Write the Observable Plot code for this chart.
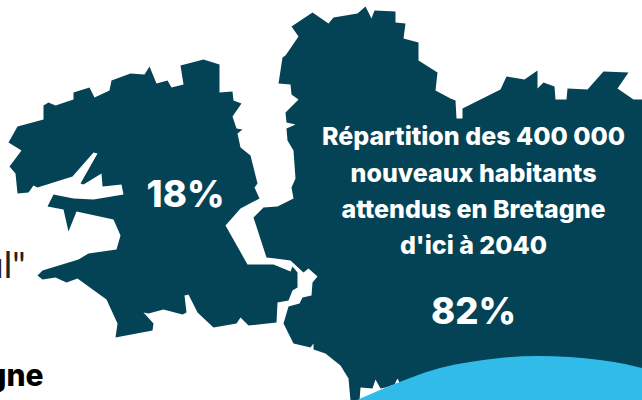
<!DOCTYPE html>
<html><head><meta charset="utf-8">
<style>html,body{margin:0;padding:0;background:#fff;overflow:hidden}svg{display:block}</style>
<script src="https://cdn.jsdelivr.net/npm/d3@7"></script>
<script src="https://cdn.jsdelivr.net/npm/@observablehq/plot@0.6"></script>
</head><body><div id="chart"></div>
<script>
const west = [[8,142],[17,126],[43,119],[43,105],[48,102],[55,105],[73,99],[73,92],[89,87],[94,97],[109,90],[111,80],[130,73],[144,74],[149,66],[156,83],[167,80],[171,87],[183,84],[180,65],[203,59],[219,64],[219,92],[232,91],[233,100],[241,103],[232,116],[236,128],[242,129],[237,133],[240,147],[250,155],[257,183],[254,187],[259,198],[240,208],[225,225],[247,264],[273,264],[290,271],[292,266],[297,272],[297,287],[292,290],[288,300],[277,302],[276,322],[248,325],[240,317],[236,323],[213,327],[197,312],[188,294],[184,295],[186,312],[182,314],[163,309],[148,313],[143,312],[153,323],[152,330],[115,337],[117,323],[106,299],[77,278],[66,282],[55,277],[42,279],[37,275],[42,270],[78,259],[88,253],[116,249],[120,235],[113,219],[76,211],[68,231],[63,209],[47,206],[53,194],[73,198],[93,199],[123,194],[121,184],[102,186],[101,173],[83,184],[80,183],[97,153],[93,152],[72,176],[37,187],[33,185],[28,192],[17,193],[15,173],[9,166],[21,150]];
const east = [[291,26],[312,12],[328,23],[333,17],[357,13],[365,6],[371,18],[374,10],[395,11],[395,22],[405,23],[403,38],[418,42],[418,60],[437,72],[435,90],[450,98],[455,100],[456,118],[462,118],[462,108],[500,89],[506,76],[524,79],[537,70],[537,88],[543,82],[554,86],[555,99],[566,99],[567,88],[587,89],[603,71],[628,72],[617,88],[633,99],[642,99],[642,400],[400,400],[400,384],[397,378],[394,384],[385,387],[380,388],[375,379],[372,388],[360,387],[359,400],[350,400],[348,378],[340,365],[325,353],[313,349],[313,343],[310,347],[293,343],[283,323],[288,306],[299,303],[302,297],[311,295],[312,282],[317,276],[308,268],[303,272],[290,260],[275,258],[266,257],[253,217],[263,207],[277,206],[293,198],[291,187],[295,178],[293,150],[287,140],[286,128],[295,124],[286,122],[285,112],[298,99],[291,94],[290,84],[278,83],[282,57],[285,55],[298,36]];
const waveX = [357,380,410,440,470,500,537,570,600,625,642];
const waveY = [400,390,378,368,362,358,356,357,360,364,368];
const titleLines = ["Répartition des 400 000","nouveaux habitants","attendus en Bretagne","d'ici à 2040"];
const titleY = [144,181,217,253];
const teal = "#044355", sky = "#30BBE9";
const font = "Inter";
const chart = Plot.plot({
  width:642,height:400,margin:0,
  x:{domain:[0,642],range:[0,642],axis:null},
  y:{domain:[0,400],range:[0,400],axis:null},
  style:{background:"#fff"},
  marks:[
    Plot.line(west,{x:d=>d[0],y:d=>d[1],fill:teal,stroke:"none"}),
    Plot.line(east,{x:d=>d[0],y:d=>d[1],fill:teal,stroke:"none"}),
    Plot.areaY(waveX,{x:d=>d,y1:400,y2:(d,i)=>waveY[i],fill:sky,curve:"monotone-x"}),
    Plot.text(titleLines,{x:473,y:(d,i)=>titleY[i],text:d=>d,fill:"#fff",fontFamily:font,fontWeight:800,fontSize:25,lineAnchor:"bottom",dy:0,textAnchor:"middle"}),
    Plot.text(["82%"],{x:473,y:323,text:d=>d,fill:"#fff",fontFamily:font,fontWeight:800,fontSize:36.5,lineAnchor:"bottom",dy:0,textAnchor:"middle"}),
    Plot.text(["18%"],{x:185,y:206,text:d=>d,fill:"#fff",fontFamily:font,fontWeight:800,fontSize:36.5,lineAnchor:"bottom",dy:0,textAnchor:"middle"}),
    Plot.text(['ul"'],{x:25,y:277,text:d=>d,fill:"#222",fontFamily:"Lato",fontWeight:400,fontSize:36,lineAnchor:"bottom",dy:0,textAnchor:"end"}),
    Plot.text(["gne"],{x:43,y:385,text:d=>d,fill:"#000",fontFamily:font,fontWeight:800,fontSize:30,lineAnchor:"bottom",dy:0,textAnchor:"end"})
  ]
});
document.getElementById("chart").append(chart);
</script></body></html>
